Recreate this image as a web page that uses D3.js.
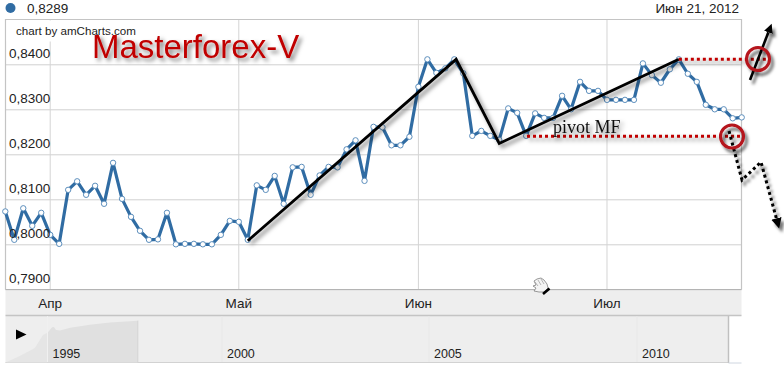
<!DOCTYPE html>
<html><head><meta charset="utf-8">
<script src="https://cdn.jsdelivr.net/npm/d3@7"></script>
<style>html,body{margin:0;padding:0;background:#fff}svg{display:block}text{font-family:"Liberation Sans",Arial,sans-serif;fill:#222}</style>
</head><body><svg id="c" width="784" height="369"></svg>
<script>
const series=[.8073,.8010,.8080,.8041,.8070,.8021,.8001,.8121,.8140,.8110,.8130,.8090,.8181,.8101,.8061,.8030,.8010,.8011,.8070,.8000,.8001,.8001,.8000,.8000,.8021,.8052,.8050,.8010,
.8131,.8121,.8152,.8090,.8171,.8172,.8110,.8153,.8172,.8171,.8211,.8231,.8141,.8261,.8260,.8220,.8220,.8239,.8350,.8411,.8381,.8391,.8411,.8380,.8241,.8252,.8241,.8232,
.8302,.8292,.8241,.8291,.8281,.8281,.8330,.8300,.8361,.8341,.8341,.8321,.8321,.8321,.8321,.8402,.8376,.8359,.8389,.8411,.8379,.8361,.8310,.8300,.8300,.8280,.8282];
const yTicks=[.79,.80,.81,.82,.83,.84];
const monthLabels=["Апр","Май","Июн","Июл"];
const monthIndex=[5,26,46,67];
const trendIdx=[27,50.2,55,75];
const trendVal=[.8008,.8411,.8224,.8411];
const pivotLevels=[.8411,.8240];
const navYears=[1995,2000,2005,2010];
const navPos=[47.5,222,429,637];
const navCurveYear=[1990,1991.7,1993.5,1994.46,1995,1995.18,1995.25,1995.33,1995.49,1995.88,1996.65,1997.43,1998.5];
const navCurveVal=[0,.14,.31,.59,.64,.76,.765,.70,.69,.75,.81,.86,.9];

const svg=d3.select("#c");
const defs=svg.append("defs");
const mk=(id,dx,dy,sd,op)=>{const f=defs.append("filter").attr("id",id).attr("x","-30%").attr("y","-30%").attr("width","170%").attr("height","170%");
 f.append("feDropShadow").attr("dx",dx).attr("dy",dy).attr("stdDeviation",sd).attr("flood-color","#000").attr("flood-opacity",op);};
mk("sh",3,3,2,.5); mk("sh2",3,4,1.6,.55);
defs.append("marker").attr("id","ah").attr("markerWidth",4).attr("markerHeight",4).attr("refX",0).attr("refY",1.75).attr("orient","auto")
 .append("path").attr("d","M0,0L3.5,1.75L0,3.5Z").attr("fill","#000");

const L=5.5,R=741.5,T=19.5,B=289.5;
const x=d3.scaleLinear().domain([0,82]).range([5.3,741.7]);
const y=d3.scaleLinear().domain([.79,.84]).range([289.3,64.3]);
const fmt=v=>d3.format(".4f")(v).replace(".",",");

// strips
svg.append("rect").attr("x",L).attr("y",B).attr("width",R-L).attr("height",26).attr("fill","#eeeeee");
svg.append("rect").attr("x",L).attr("y",316).attr("width",723).attr("height",47).attr("fill","#eeeeee");
svg.append("line").attr("x1",L).attr("x2",R).attr("y1",315.5).attr("y2",315.5).attr("stroke","#c4c4c4").attr("stroke-width",1.6);
svg.append("line").attr("x1",L).attr("x2",728).attr("y1",362.5).attr("y2",362.5).attr("stroke","#d2d2d2");
svg.append("line").attr("x1",728.5).attr("x2",728.5).attr("y1",316).attr("y2",363).attr("stroke","#c0c0c0").attr("stroke-width",1.5);
svg.append("line").attr("x1",728.5).attr("x2",R).attr("y1",363).attr("y2",363).attr("stroke","#cfd6e0");

// navigator
const nx=d3.scaleLinear().domain(navYears).range(navPos);
const ny=d3.scaleLinear().domain([0,1]).range([362.5,316]);
const navX=d3.scaleLinear().domain([1990,1995,1998.5]).range([5.5,47.5,137.5]);
const navData=navCurveYear.map((d,i)=>({x:navX(d),v:navCurveVal[i]}));
const area=d3.area().x(d=>d.x).y0(ny(0)).y1(d=>ny(d.v));
svg.selectAll(".navg").data(navYears).enter().append("line").attr("x1",nx).attr("x2",nx).attr("y1",316).attr("y2",362).attr("stroke","#e8e8e8");
svg.append("path").datum(navData.filter(d=>d.x<=47.6)).attr("d",area).attr("fill","#e5e5e5");
svg.append("path").datum(navData.filter(d=>d.x>=47.4)).attr("d",area).attr("fill","#e0e0e0");
svg.append("line").attr("x1",47.5).attr("x2",47.5).attr("y1",316).attr("y2",362).attr("stroke","#f0f0f0");
svg.append("line").attr("x1",137.8).attr("x2",137.8).attr("y1",ny(.9)).attr("y2",362).attr("stroke","#d2d2d2");
svg.selectAll(".navt").data(navYears).enter().append("text").attr("x",d=>nx(d)+5).attr("y",358).attr("font-size",12.5).text(d=>d);
svg.append("path").attr("d","M16,329.5L26.5,334.5L16,339.5Z").attr("fill","#000");

// grid
const gy=svg.append("g").attr("transform",`translate(${L},0)`).call(d3.axisRight(y).tickValues(yTicks).tickSize(R-L).tickFormat(""));
gy.selectAll("line").attr("stroke","#d0d0d0").attr("stroke-width",1);
gy.select(".domain").remove();
const gx=svg.append("g").attr("transform",`translate(0,${T})`);
gx.selectAll("line").data(monthIndex).enter().append("line").attr("x1",d=>x(d)).attr("x2",d=>x(d)).attr("y1",0).attr("y2",B-T).attr("stroke","#d4d4d4").attr("stroke-width",1);

// frame
svg.append("path").attr("d",`M${L},${B}V${T}H${R}V${B}`).attr("fill","none").attr("stroke","#c4c4c4").attr("stroke-width",1.2);
svg.append("line").attr("x1",L).attr("x2",R).attr("y1",B).attr("y2",B).attr("stroke","#b4b4b4");
svg.append("rect").attr("x",6.5).attr("y",20.5).attr("width",130).attr("height",21).attr("fill","#fff");

// series
svg.append("path").datum(series).attr("fill","none").attr("stroke","#306ca3").attr("stroke-width",3.2).attr("stroke-linejoin","round")
 .attr("d",d3.line().x((d,i)=>x(i)).y(d=>y(d)));
svg.selectAll(".pt").data(series).enter().append("circle").attr("cx",(d,i)=>x(i)).attr("cy",d=>y(d)).attr("r",2.7).attr("fill","#fff").attr("stroke","#5d8fbd").attr("stroke-width",1);

// annotations
const lineG=svg.append("g").attr("filter","url(#sh)");
lineG.append("path").datum(trendVal).attr("fill","none").attr("stroke","#000").attr("stroke-width",2.8)
 .attr("d",d3.line().x((d,i)=>x(trendIdx[i])).y(d=>y(d)));
const redG=svg.append("g").attr("filter","url(#sh)");
redG.append("line").attr("x1",x(75)).attr("x2",768).attr("y1",y(pivotLevels[0])).attr("y2",y(pivotLevels[0])).attr("stroke","#c00000").attr("stroke-width",3).attr("stroke-dasharray","3 3");
redG.append("line").attr("x1",527).attr("x2",741).attr("y1",y(pivotLevels[1])).attr("y2",y(pivotLevels[1])).attr("stroke","#c00000").attr("stroke-width",3).attr("stroke-dasharray","3 3");
const arG=svg.append("g").attr("filter","url(#sh2)");
arG.append("line").attr("x1",750).attr("y1",80).attr("x2",768.4).attr("y2",32.3).attr("stroke","#000").attr("stroke-width",2.6).attr("marker-end","url(#ah)");
arG.append("path").attr("d","M729,131L742,180L761,162L776.4,218.4").attr("fill","none").attr("stroke","#000").attr("stroke-width",3).attr("stroke-dasharray","3 3").attr("marker-end","url(#ah)");
const cg=svg.append("g").attr("filter","url(#sh2)");
cg.append("circle").attr("cx",758).attr("cy",59).attr("r",11.5).attr("fill","none").attr("stroke","#b5121b").attr("stroke-width",3);
cg.append("circle").attr("cx",732).attr("cy",136.5).attr("r",11.5).attr("fill","none").attr("stroke","#b5121b").attr("stroke-width",3);

// hand cursor
const h=svg.append("g").attr("transform","translate(533,278)");
h.append("path").attr("d","M1,3L4,1L8,0L11,2L14,6L15,10L11,14L6,14L1,13L3,10L0,8L3,7Z").attr("fill","#f4f4f4").attr("stroke","#808080").attr("stroke-width",.8);
h.append("path").attr("d","M5,2L8,7M8,1L11,6M2,4L5,8").attr("stroke","#999").attr("stroke-width",.7);
h.append("path").attr("d","M10,16L16.5,10.5").attr("stroke","#000").attr("stroke-width",2.6);

// labels
svg.selectAll(".yl").data(yTicks).enter().append("text").attr("x",9).attr("y",d=>y(d)-6).attr("font-size",13.5).attr("fill","#222").text(fmt);
svg.selectAll(".ml").data(monthLabels).enter().append("text").attr("x",(d,i)=>x(monthIndex[i])).attr("y",308).attr("text-anchor","middle").attr("font-size",13.5).text(d=>d);
svg.append("text").attr("x",16).attr("y",35).attr("font-size",11.6).text("chart by amCharts.com");
svg.append("circle").attr("cx",10.5).attr("cy",8).attr("r",5).attr("fill","#306ca3");
svg.append("text").attr("x",27).attr("y",13).attr("font-size",13.5).text(fmt(.8289));
svg.append("text").attr("x",739).attr("y",13).attr("text-anchor","end").attr("font-size",13.5).text("Июн 21, 2012");
svg.append("text").attr("x",92).attr("y",58).attr("font-size",33).attr("filter","url(#sh)").style("fill","#c00000").text("Masterforex-V");
svg.append("text").attr("x",553).attr("y",133).attr("font-size",18).attr("filter","url(#sh)").style("font-family","'Liberation Serif',serif").style("fill","#111").text("pivot MF");
</script></body></html>
